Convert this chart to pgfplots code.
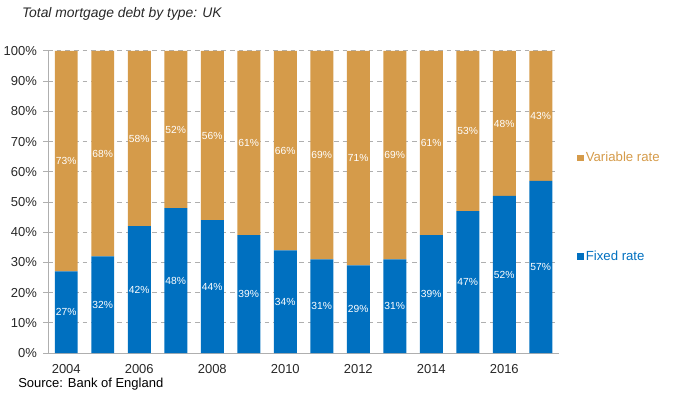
\documentclass[border=0pt]{standalone}
\usepackage{pgfplots}
\pgfplotsset{compat=1.18}
\usepackage{pgfplotstable}
\usepackage{fontspec}
\setmainfont{Liberation Sans}
\definecolor{fixedc}{RGB}{0,112,192}
\definecolor{varc}{RGB}{213,155,74}
\definecolor{gridc}{RGB}{175,175,175}
\definecolor{txt}{RGB}{40,40,40}
\pgfplotstableread{
x year fixed variable
0 2004 27 73
1 2005 32 68
2 2006 42 58
3 2007 48 52
4 2008 44 56
5 2009 39 61
6 2010 34 66
7 2011 31 69
8 2012 29 71
9 2013 31 69
10 2014 39 61
11 2015 47 53
12 2016 52 48
13 2017 57 43
}\datatable
\begin{document}
\begin{tikzpicture}
\path[use as bounding box] (0,0) rectangle (510pt,297.75pt);
\begin{axis}[
  at={(36pt,33pt)}, anchor=south west,
  scale only axis, width=383.25pt, height=226.5pt,
  ybar stacked, bar width=0.63,
  xmin=-0.5, xmax=13.5, ymin=0, ymax=100,
  /pgf/number format/assume math mode=true,
  axis x line*=bottom, axis y line*=left,
  axis line style={gridc, line width=0.75pt, -},
  xtick={0,2,4,6,8,10,12},
  xticklabels={2004,2006,2008,2010,2012,2014,2016},
  x tick style={draw=none},
  ytick={0,10,...,100},
  yticklabel={\pgfmathprintnumber{\tick}\%},
  y tick style={gridc, line width=0.75pt},
  tick align=outside, major tick length=3.75pt,
  ymajorgrids, grid style={gridc, line width=0.75pt, dash pattern=on 3.5pt off 3pt},
  ticklabel style={font=\fontsize{9.75}{11}\selectfont, text=txt},
  yticklabel style={xshift=-1pt},
  xticklabel style={yshift=-1pt},
  visualization depends on={rawy \as \rawy},
  nodes near coords={\pgfmathprintnumber{\rawy}\%},
  every node near coord/.append style={font=\fontsize{7.7}{9}\selectfont, text=white, anchor=center},
  reverse legend,
  legend image code/.code={\fill[#1] (0pt,-2.5pt) rectangle (5pt,2.5pt);},
  legend style={draw=none, fill=none, at={(1.035,0.672)}, anchor=north west,
    font=\fontsize{9.9}{11}\selectfont, row sep=62pt, inner sep=0pt,
    nodes={inner sep=1.5pt}},
  legend cell align=left,
]
\addplot[fill=fixedc, draw=none] table[x=x, y=fixed] {\datatable};
\addlegendentry{\textcolor{fixedc}{Fixed rate}}
\addplot[fill=varc, draw=none] table[x=x, y=variable] {\datatable};
\addlegendentry{\textcolor{varc}{Variable rate}}
\end{axis}
\node[anchor=west, font=\itshape\fontsize{10.4}{12}\selectfont, text=txt, inner sep=0pt] at (16.3pt,287.25pt) {Total mortgage debt by type: UK};
\node[anchor=west, font=\fontsize{9.75}{11}\selectfont, text=black, inner sep=0pt] at (13.5pt,9.75pt) {Source: Bank of England};
\end{tikzpicture}
\end{document}
